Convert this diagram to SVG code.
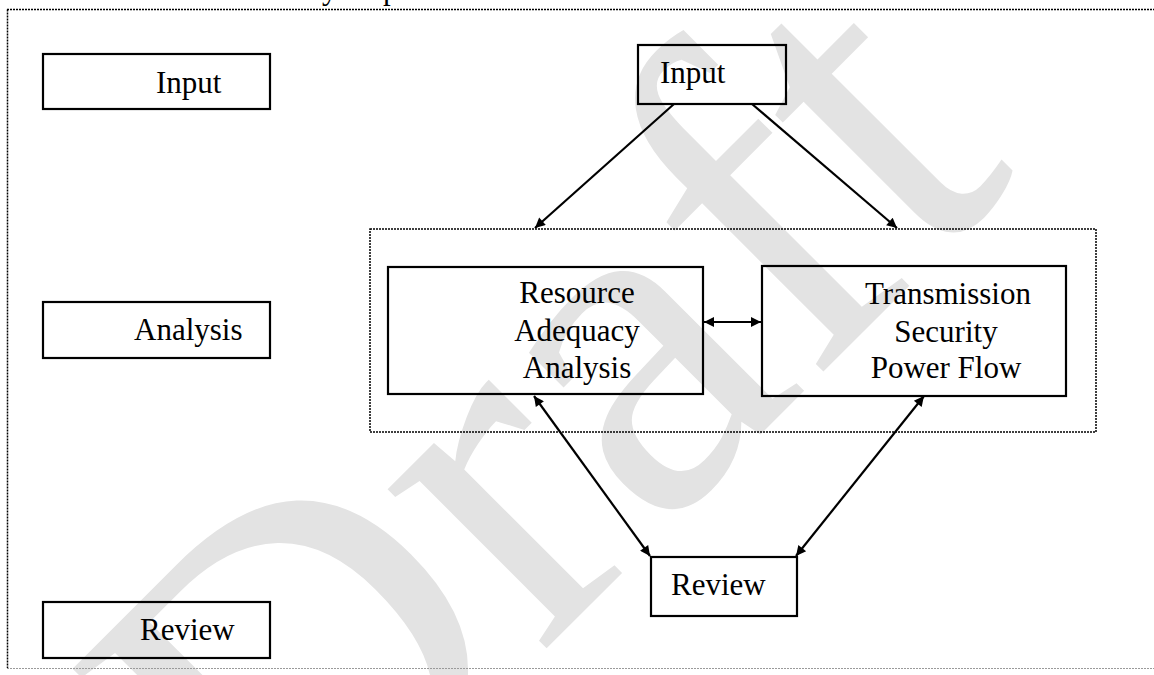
<svg xmlns="http://www.w3.org/2000/svg" width="1154" height="675" viewBox="0 0 1154 675">
<style>
.box{fill:none;stroke:#000;stroke-width:2.2}
.lbl{font-family:"Liberation Serif","Times New Roman",serif;font-size:31px;fill:#000}
.mid{text-anchor:middle}
.dot{fill:none;stroke:#000;stroke-width:1.5;stroke-dasharray:2 1}
.conn{fill:none;stroke:#000;stroke-width:2.2}
.wm{font-family:"Liberation Serif","Times New Roman",serif;font-size:490px;fill:#e3e3e3}
</style>
<defs>
<marker id="ah" viewBox="0 0 10 10" refX="10" refY="5" markerWidth="12" markerHeight="10" markerUnits="userSpaceOnUse" orient="auto-start-reverse">
<path d="M0,0 L10,5 L0,10 z" fill="#000"/>
</marker>
</defs>
<rect width="1154" height="675" fill="#fff"/>
<g id="watermark">
<text class="wm" text-anchor="middle" transform="translate(655,540) rotate(-45)">Draft</text>
</g>
<g id="frame">
<path class="dot" d="M7,9.5 H1154"/>
<path class="dot" d="M7.5,9.5 V668"/>
<path d="M7,668.5 H1154" fill="none" stroke="#9a9a9a" stroke-width="1.2" stroke-dasharray="2 1"/>
<text class="lbl"><tspan x="322" y="-1.5">y</tspan><tspan x="383" y="-1.5">p</tspan></text>
</g>
<g id="lane-input"><rect class="box" x="43" y="54" width="227" height="55"/><text class="lbl" x="156" y="93">Input</text></g>
<g id="lane-analysis"><rect class="box" x="43" y="302" width="227" height="56"/><text class="lbl" x="134" y="340">Analysis</text></g>
<g id="lane-review"><rect class="box" x="43" y="602" width="227" height="56"/><text class="lbl" x="140" y="640">Review</text></g>
<g id="analysis-group"><rect class="dot" x="370" y="229" width="726" height="203"/></g>
<g id="input"><rect class="box" x="638" y="45" width="148" height="59"/><text class="lbl" x="660" y="83">Input</text></g>
<g id="resource"><rect class="box" x="388" y="267" width="315" height="127"/>
<text class="lbl mid" x="577" y="303">Resource</text>
<text class="lbl mid" x="577" y="341">Adequacy</text>
<text class="lbl mid" x="577" y="378">Analysis</text></g>
<g id="transmission"><rect class="box" x="762" y="266" width="304" height="130"/>
<text class="lbl mid" x="948" y="304">Transmission</text>
<text class="lbl mid" x="946" y="342">Security</text>
<text class="lbl mid" x="946" y="378">Power Flow</text></g>
<g id="review"><rect class="box" x="651" y="557" width="146" height="59"/><text class="lbl" x="671" y="595">Review</text></g>
<g id="connectors">
<path class="conn" d="M674,104 L535,228" marker-end="url(#ah)"/>
<path class="conn" d="M752,104 L897,228" marker-end="url(#ah)"/>
<path class="conn" d="M704,322 L761,322" marker-start="url(#ah)" marker-end="url(#ah)"/>
<path class="conn" d="M534,396 L650,556" marker-start="url(#ah)" marker-end="url(#ah)"/>
<path class="conn" d="M924,396 L796,556" marker-start="url(#ah)" marker-end="url(#ah)"/>
</g>
</svg>
